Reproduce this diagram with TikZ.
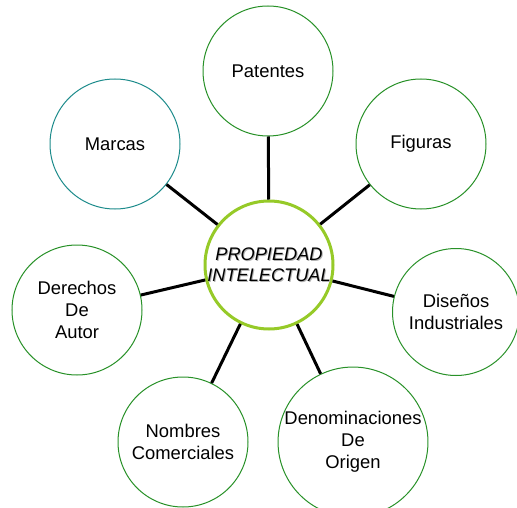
\documentclass[tikz,border=0pt]{standalone}
\usepackage{fontspec}
\setmainfont{Liberation Sans}
\definecolor{ramaverde}{RGB}{40,145,40}
\definecolor{ramaazul}{RGB}{30,140,140}
\definecolor{nucleoverde}{RGB}{150,202,40}
\newcommand{\sombreado}[1]{\makebox[0pt][l]{\raisebox{-1pt}{\hspace{1pt}\color{black!30}#1}}#1}
\tikzset{
  rama/.style={circle, draw=ramaverde, line width=1pt, fill=white, minimum size=130pt,
    inner sep=0pt, align=center, font=\fontsize{18.4}{22}\selectfont},
  nucleo/.style={rama, draw=nucleoverde, line width=3pt, minimum size=128pt,
    font=\fontsize{18.2}{21}\selectfont\itshape},
  enlace/.style={color=black, line width=3pt}
}

\begin{document}
\begin{tikzpicture}[x=1pt,y=-1pt]
  \useasboundingbox (0,0) rectangle (517,508);
  \node[nucleo] (pi) at (269,265) {\sombreado{PROPIEDAD}\\\sombreado{INTELECTUAL}};
  \node[rama] (pat) at (268,71) {Patentes};
  \node[rama] (fig) at (421,144) {Figuras};
  \node[rama, draw=ramaazul] (mar) at (115,144) {Marcas};
  \node[rama] (der) at (77,310) {Derechos\\De\\Autor};
  \node[rama, minimum size=127pt] (dis) at (456,312) {Diseños\\Industriales};
  \node[rama] (nom) at (183,442) {Nombres\\Comerciales};
  \node[rama] (den) at (353,442) {Denominaciones\\De\\Origen};

  \foreach \x in {pat,fig,mar,der,dis,nom,den}
  {
  \draw[enlace] (pi) -- (\x);
  }
\end{tikzpicture}
\end{document}
